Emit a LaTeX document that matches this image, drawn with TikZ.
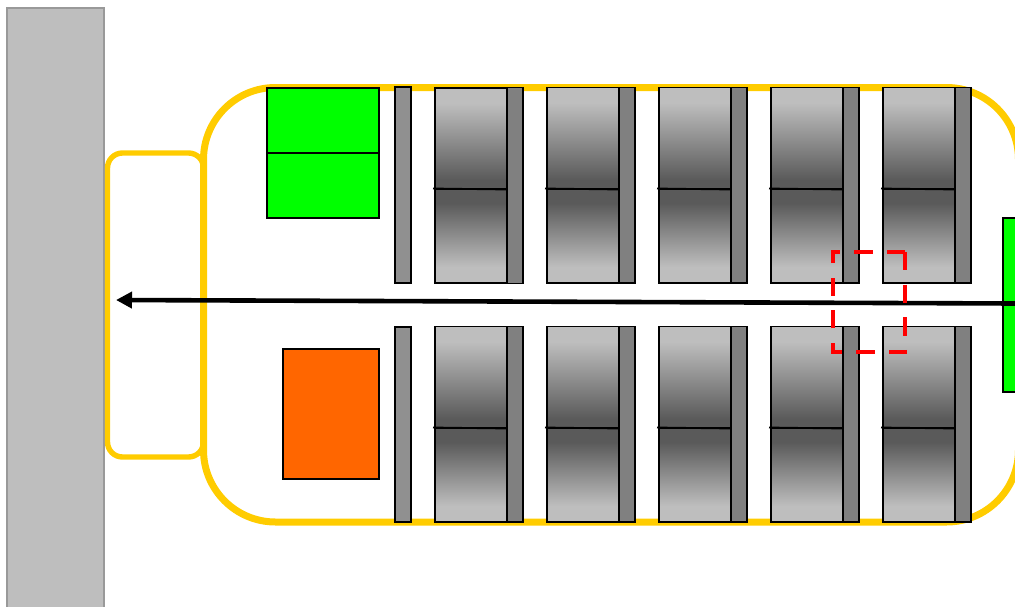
\documentclass[tikz,border=0pt]{standalone}
\usetikzlibrary{arrows.meta}
\definecolor{gold}{HTML}{FFCC00}
\definecolor{wallfill}{HTML}{BEBEBE}
\definecolor{wallline}{HTML}{999999}
\definecolor{barfill}{HTML}{909090}
\definecolor{sidefill}{HTML}{808080}
\definecolor{lightgr}{HTML}{BEBEBE}
\definecolor{darkgr}{HTML}{5A5A5A}
\definecolor{safegreen}{HTML}{00FF00}
\definecolor{orangebox}{HTML}{FF6600}
\pgfdeclareverticalshading{upgrad}{100bp}{color(0bp)=(darkgr); color(29.5bp)=(darkgr); color(67.5bp)=(lightgr); color(100bp)=(lightgr)}
\pgfdeclareverticalshading{lowgrad}{100bp}{color(0bp)=(lightgr); color(33.5bp)=(lightgr); color(67.5bp)=(darkgr); color(100bp)=(darkgr)}
\tikzset{
  px/.style={rectangle,anchor=north west,inner sep=0pt,outer sep=0pt},
  sz/.style 2 args={minimum width=#1pt,minimum height=#2pt},
  wall/.style={px,draw=wallline,fill=wallfill,line width=2pt},
  shell/.style={px,draw=gold,line width=7pt,rounded corners=72pt},
  porch/.style={px,draw=gold,line width=5.4pt,rounded corners=15pt},
  blk/.style={px,draw=black,line width=1.8pt},
  greenbox/.style={blk,fill=safegreen},
  orbox/.style={blk,fill=orangebox},
  barbox/.style={blk,fill=barfill},
  sidebox/.style={blk,fill=sidefill},
  upperbox/.style={blk,shading=upgrad},
  lowerbox/.style={blk,shading=lowgrad},
  midline/.style={draw=black,line width=1.8pt},
  flowline/.style={draw=black,line width=4.6pt,-{Triangle[length=16pt,width=16pt]}},
  redzone/.style={draw=red,line width=4.3pt,dash pattern=on 18.3pt off 14.3pt,miter limit=10}
}
\begin{document}
\begin{tikzpicture}[x=1pt,y=-1pt]
\useasboundingbox (0,0) rectangle (1015,606);
\clip (0,0) rectangle (1015,606);
\node[wall,sz={96.5}{620}] (wallbox) at (7,8) {};
\node[porch,sz={96}{304}] (porchbox) at (107.5,153) {};
\node[shell,sz={815}{434.5}] (shellbox) at (203.5,87.5) {};
\node[greenbox,sz={112}{65}] (gA) at (267,88) {};
\node[greenbox,sz={112}{65}] (gB) at (267,153) {};
\node[orbox,sz={96}{130}] (orange) at (283,349) {};
\node[barbox,sz={16}{196}] (barT) at (395,87) {};
\node[barbox,sz={16}{195}] (barB) at (395,327) {};
\foreach \i/\x/\dy/\sh in {1/435/0.7/196,2/547/0/195.8,3/659/0/195.8,4/771/0/195.8,5/883/0/195.8}{
  \node[upperbox,sz={72}{101.5-\dy}] (tu\i) at (\x,87.5+\dy) {};
  \node[lowerbox,sz={72}{94}] (tl\i) at (\x,189) {};
  \node[sidebox,sz={16}{\sh}] (ts\i) at (\x+72,87.5) {};
  \draw[midline] ([xshift=-2pt,yshift=0.5pt]tu\i.south west) -- ([yshift=-0.5pt]tu\i.south east);
  \node[upperbox,sz={72}{101.5}] (bu\i) at (\x,326.5) {};
  \node[lowerbox,sz={72}{94}] (bl\i) at (\x,428) {};
  \node[sidebox,sz={16}{195.5}] (bs\i) at (\x+72,326.5) {};
  \draw[midline] ([xshift=-2pt,yshift=0.5pt]bu\i.south west) -- ([yshift=-0.5pt]bu\i.south east);
}
\node[greenbox,sz={20}{174}] (gR) at (1003,218) {};
\coordinate (flowS) at (1016,303.5);
\coordinate (flowE) at (116,300);
\draw[flowline] (flowS) -- (flowE);
\node[px,sz={72}{100}] (zone) at (833,252) {};
\draw[redzone] (zone.north east) -- (zone.south east) -- (zone.south west) -- (zone.north west) -- cycle;
\end{tikzpicture}
\end{document}
